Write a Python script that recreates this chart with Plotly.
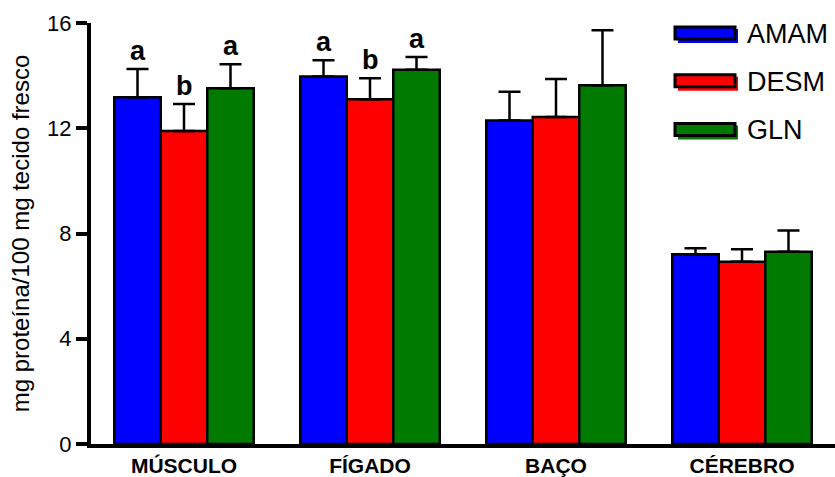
import plotly.graph_objects as go

# Tissue categories and treatment groups
tissues = ["MÚSCULO", "FÍGADO", "BAÇO", "CÉREBRO"]
groups = ["AMAM", "DESM", "GLN"]
colors = ["#0000FF", "#FF0000", "#007A00"]

# Mean protein content (mg/100 mg fresh tissue) per group
amam_mean = [13.18, 13.97, 12.29, 7.21]
desm_mean = [11.90, 13.10, 12.43, 6.93]
gln_mean = [13.52, 14.22, 13.63, 7.31]

# Standard error (upper bar only)
amam_err = [1.07, 0.61, 1.10, 0.23]
desm_err = [1.02, 0.80, 1.44, 0.47]
gln_err = [0.91, 0.49, 2.09, 0.80]

# Significance letters (empty = none)
amam_sig = ["a", "a", "", ""]
desm_sig = ["b", "b", "", ""]
gln_sig = ["a", "a", "", ""]

y_ticks = [0, 4, 8, 12, 16]

means = [amam_mean, desm_mean, gln_mean]
errs = [amam_err, desm_err, gln_err]
sigs = [amam_sig, desm_sig, gln_sig]

FONT = "Liberation Sans, Arial"
W, H = 835, 477
ML, MR, MT, MB = 91, 0, 23, 31
PW = W - ML - MR
PH = H - MT - MB

fig = go.Figure()
for g, c, m, e in zip(groups, colors, means, errs):
    fig.add_trace(go.Bar(
        name=g, x=tissues, y=m,
        marker=dict(color=c, line=dict(color="black", width=2.5)),
        error_y=dict(type="data", array=e, arrayminus=[0] * len(e),
                     symmetric=False, color="black", thickness=2.5, width=11),
        showlegend=False,
    ))

# Letters above the error bars
bar_px = PW / len(tissues) * 0.75 / len(groups)
annotations = []
for gi, (m, e, s) in enumerate(zip(means, errs, sigs)):
    for ti, t in enumerate(tissues):
        if s[ti]:
            annotations.append(dict(
                x=t, y=m[ti] + e[ti], xref="x", yref="y",
                text="<b>%s</b>" % s[ti], showarrow=False,
                xshift=(gi - 1) * bar_px, yshift=18, yanchor="middle",
                font=dict(size=27, color="black", family=FONT),
            ))

# Custom legend: coloured swatch with a black frame and a coloured drop shadow
def px_x(x):
    return (x - ML) / PW

def px_y(y):
    return (H - MB - y) / PH

shapes = []
legend_y = [33, 81, 130]
for g, c, cy in zip(groups, colors, legend_y):
    shapes.append(dict(type="rect", xref="paper", yref="paper",
                       x0=px_x(678), x1=px_x(738), y0=px_y(cy - 4), y1=px_y(cy + 10),
                       fillcolor=c, line=dict(width=0), layer="above"))
    shapes.append(dict(type="rect", xref="paper", yref="paper",
                       x0=px_x(675), x1=px_x(735), y0=px_y(cy - 6), y1=px_y(cy + 6),
                       fillcolor=c, line=dict(color="black", width=3), layer="above"))
    annotations.append(dict(x=px_x(745), y=px_y(cy + 1), xref="paper", yref="paper",
                            text=g, showarrow=False, xanchor="left", yanchor="middle",
                            font=dict(size=27, color="black", family=FONT)))

fig.update_layout(
    width=W, height=H,
    margin=dict(l=ML, r=MR, t=MT, b=MB, pad=0),
    paper_bgcolor="white", plot_bgcolor="white",
    barmode="group", bargap=0.25, bargroupgap=0,
    font=dict(family=FONT, color="black"),
    xaxis=dict(
        showline=True, linecolor="black", linewidth=4,
        ticks="", showgrid=False, zeroline=False,
        tickfont=dict(size=21, family=FONT),
        tickprefix="<b>", ticksuffix="</b>",
        range=[-0.5, 3.5],
    ),
    yaxis=dict(
        range=[0, 16], tickvals=y_ticks,
        showline=True, linecolor="black", linewidth=4,
        ticks="outside", ticklen=11, tickwidth=3.5, tickcolor="black",
        showgrid=False, zeroline=False,
        tickfont=dict(size=22, family=FONT),
        title=dict(text="mg proteína/100 mg tecido fresco",
                   font=dict(size=24, family=FONT), standoff=12),
    ),
    annotations=annotations,
    shapes=shapes,
)

fig.write_html("out.html")
